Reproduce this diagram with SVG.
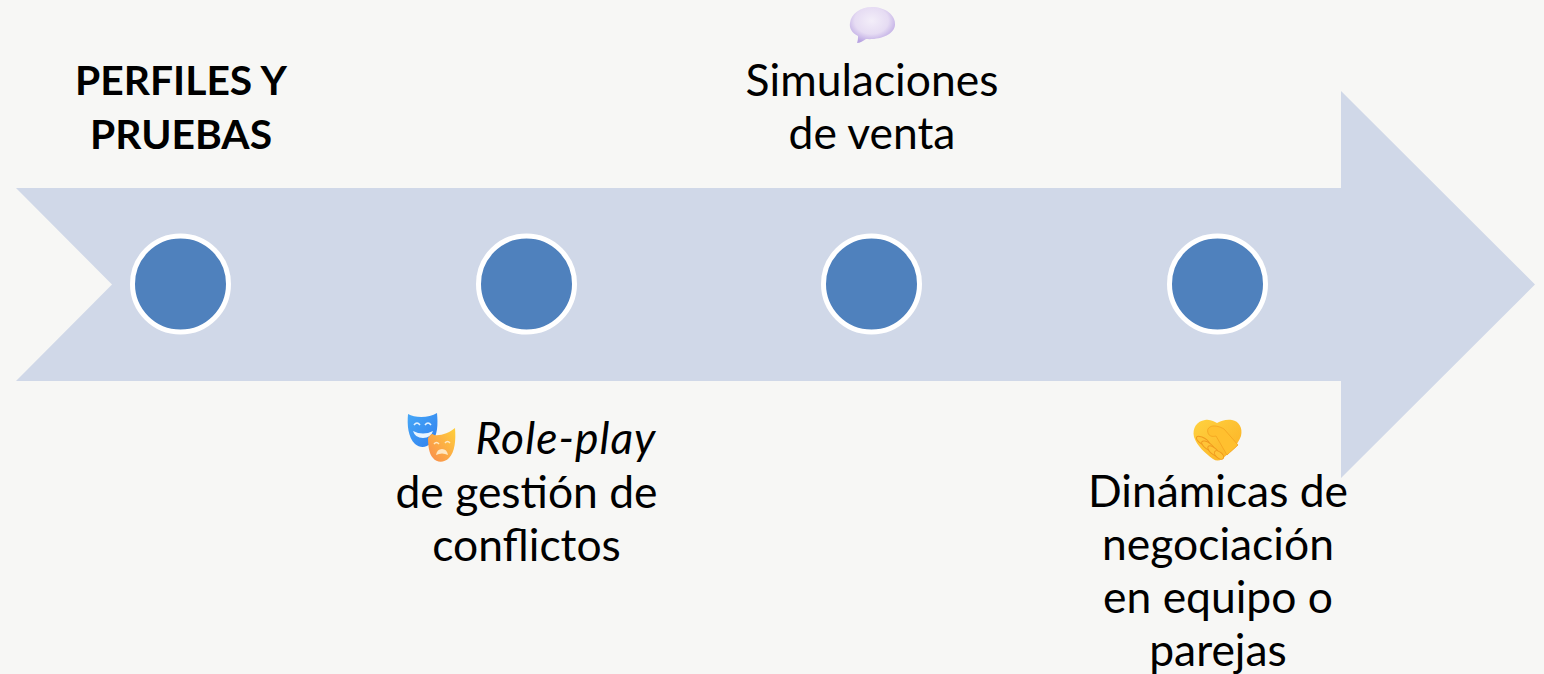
<svg xmlns="http://www.w3.org/2000/svg" width="1544" height="674" viewBox="0 0 1544 674">
<style>
.t{font-family:"Lato","Liberation Sans",sans-serif;font-size:44.4px;fill:#000;text-anchor:middle}
.b{font-weight:700;font-size:40.8px}
.i{font-style:italic;letter-spacing:1px}
.d{fill:#4f81bd;stroke:#fff;stroke-width:5}
.f{fill:#ffc438;stroke:#f09a1e;stroke-width:1}
</style>
<defs>
<radialGradient id="bub" cx="0.48" cy="0.38" r="0.62"><stop offset="0" stop-color="#f3eef9"/><stop offset="0.6" stop-color="#e6dcf3"/><stop offset="1" stop-color="#b9a4e2"/></radialGradient>
<linearGradient id="blue" x1="0" y1="0" x2="1" y2="1"><stop offset="0" stop-color="#47a8f7"/><stop offset="1" stop-color="#2f7fee"/></linearGradient>
<linearGradient id="org" x1="1" y1="0" x2="0" y2="1"><stop offset="0" stop-color="#ffd03a"/><stop offset="1" stop-color="#f98a4e"/></linearGradient>
<linearGradient id="hand" x1="0" y1="0" x2="1" y2="1"><stop offset="0" stop-color="#ffd23f"/><stop offset="1" stop-color="#fbb025"/></linearGradient>
</defs>
<rect width="1544" height="674" fill="#f7f7f5"/>
<g id="arrow"><path d="M16 188H1341V91L1535 284.500L1341 478V381H16L112 284.500Z" fill="#d0d8e8"/></g>
<g id="connectors"></g>
<g id="node1"><circle class="d" cx="180.500" cy="284" r="48"/>
<text class="t b" x="181" y="95">PERFILES Y</text><text class="t b" x="181" y="149">PRUEBAS</text></g>
<g id="node2"><circle class="d" cx="526.500" cy="284" r="48"/>
<path d="M408 414C415 418 429 418 437 413C438 424 438 436 431 443C426 448 420 448 415 444C408 437 407 425 408 414Z" fill="url(#blue)"/>
<path d="M414 425q3-4 6 0M425 425q3-4 6 0" fill="none" stroke="#e3f2ff" stroke-width="1.500"/>
<path d="M413 431q10 5 20 0q-2 7-10 7q-8 0-10-7Z" fill="#e8f4ff"/>
<path d="M428 438C431 434 432 433 434 435C441 436 449 433 455 428C456 440 455 452 449 458C444 463 437 463 433 458C429 454 428 445 428 438Z" fill="url(#org)"/>
<path d="M436 455q1-6 6-6q5 0 6 6q-6-3-12 0Z" fill="#ffe7c2"/>
<path d="M434 444q2.500-3 5 0M445 443q2.500-3 5 0" fill="none" stroke="#ffe7c2" stroke-width="1.500"/>
<text class="t i" x="566" y="454">Role-play</text>
<text class="t" x="526.500" y="508">de gestión de</text><text class="t" x="526.500" y="561">conflictos</text></g>
<g id="node3"><circle class="d" cx="871.500" cy="284" r="48"/>
<path d="M872 7C885 7 896 15 895 25C894 35 880 40 866 39C863 41 860 43 857 43C858 40 858 38 858 36C852 33 849 28 850 23C851 14 860 7 872 7Z" fill="url(#bub)"/>
<text class="t" x="872" y="96">Simulaciones</text><text class="t" x="872" y="149">de venta</text></g>
<g id="node4"><circle class="d" cx="1217.500" cy="284" r="48"/>
<path d="M1205 420C1211 419 1214 422 1217 423C1221 421 1226 419 1232 420C1239 421 1243 428 1241 436C1238 445 1229 453 1222 459C1219 461 1216 461 1213 459C1205 453 1197 446 1194 437C1192 428 1197 421 1205 420Z" fill="url(#hand)"/>
<path d="M1210 427C1213 425 1219 426 1224 429L1238 445C1234 449 1230 452 1227 455L1216 436C1212 437 1209 436 1208 433C1207 430 1208 428 1210 427Z" fill="#ffc02f" stroke="#f3a21f" stroke-width="0.800"/>
<g class="f"><ellipse cx="1203" cy="441" rx="7.500" ry="3.200" transform="rotate(30 1203 441)"/><ellipse cx="1208" cy="446" rx="7.500" ry="3.200" transform="rotate(35 1208 446)"/><ellipse cx="1213.500" cy="451" rx="7" ry="3.200" transform="rotate(40 1213.500 451)"/><ellipse cx="1219" cy="455" rx="5.500" ry="3" transform="rotate(40 1219 455)"/></g>
<text class="t" x="1218" y="507">Dinámicas de</text><text class="t" x="1218" y="560">negociación</text><text class="t" x="1218" y="613">en equipo o</text><text class="t" x="1218" y="666">parejas</text></g>
</svg>
